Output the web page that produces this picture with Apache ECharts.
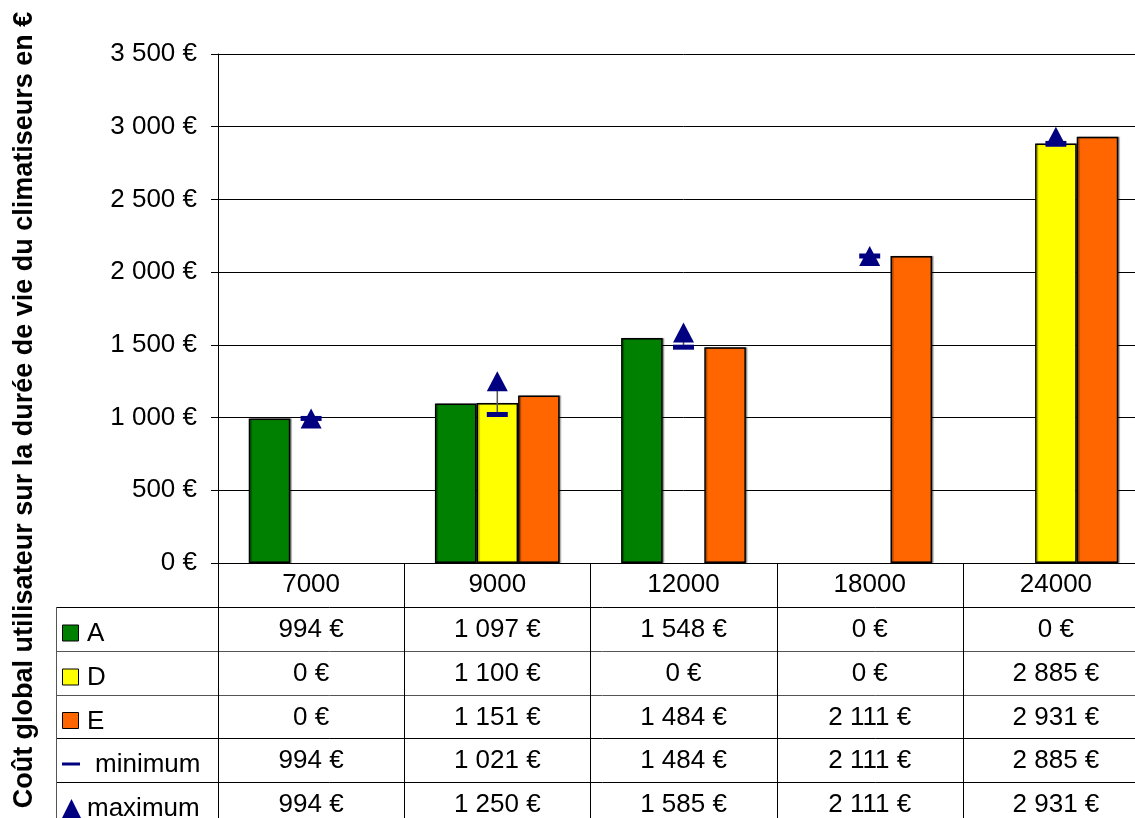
<!DOCTYPE html>
<html>
<head>
<meta charset="utf-8">
<script src="https://cdn.jsdelivr.net/npm/echarts@6/dist/echarts.min.js"></script>
<style>html,body{margin:0;padding:0;background:#fff;overflow:hidden;width:1135px;height:818px;}#c{width:1149px;height:818px;}</style>
</head>
<body>
<div id="c"></div>
<script>
const categories = ['7000', '9000', '12000', '18000', '24000'];
const seriesA = [994, 1097, 1548, 0, 0];
const seriesD = [0, 1100, 0, 0, 2885];
const seriesE = [0, 1151, 1484, 2111, 2931];
const minimum = [994, 1021, 1484, 2111, 2885];
const maximum = [994, 1250, 1585, 2111, 2931];
const yTicks = [0, 500, 1000, 1500, 2000, 2500, 3000, 3500];
const yTitle = 'Coût global utilisateur sur la durée de vie du climatiseurs en €';

const FONT = '"Liberation Sans", Arial, sans-serif';
const FS = 26;
function fmt(v) { return String(v).replace(/\B(?=(\d{3})+(?!\d))/g, ' ') + ' €'; }
function barData(arr) { return arr.map(v => v === 0 ? '-' : v); }

const W = 1149, H = 818;
const gridLeft = 218, gridTop = 54, plotBottom = 563, gridWidth = 931;
const catW = gridWidth / categories.length;
const rowTops = [563, 607, 651, 695, 738, 782, 826];
const tableLeft = 56;

const rows = [
  { name: 'A', key: 'rect', color: '#008000', vals: seriesA },
  { name: 'D', key: 'rect', color: '#FFFF00', vals: seriesD },
  { name: 'E', key: 'rect', color: '#FF6600', vals: seriesE },
  { name: 'minimum', key: 'dash', color: '#000080', vals: minimum },
  { name: 'maximum', key: 'tri', color: '#000080', vals: maximum }
];

const graphics = [];
graphics.push({
  type: 'text', x: 25, y: 410, rotation: Math.PI / 2, z: 10,
  style: { text: yTitle, font: 'bold 27px ' + FONT, fill: '#000', textAlign: 'center', textVerticalAlign: 'middle' }
});
for (let r = 1; r < rowTops.length - 1; r++) {
  graphics.push({ type: 'line', shape: { x1: tableLeft, y1: rowTops[r] + 0.5, x2: W, y2: rowTops[r] + 0.5 },
    style: { stroke: (r === 2 || r === 3) ? '#555' : '#000', lineWidth: 1 }, z: 5 });
}
graphics.push({ type: 'line', shape: { x1: tableLeft + 0.5, y1: rowTops[1], x2: tableLeft + 0.5, y2: H }, style: { stroke: '#555', lineWidth: 1 }, z: 5 });
for (let i = 0; i <= categories.length; i++) {
  const x = Math.round(gridLeft + i * catW) + 0.5;
  graphics.push({ type: 'line', shape: { x1: x, y1: plotBottom, x2: x, y2: H }, style: { stroke: '#000', lineWidth: 1 }, z: 5 });
}
rows.forEach((row, r) => {
  const yc = (rowTops[r + 1] + rowTops[r + 2]) / 2;
  row.vals.forEach((v, i) => {
    graphics.push({ type: 'text', x: gridLeft + (i + 0.5) * catW, y: yc + 1, z: 6,
      style: { text: fmt(v), font: FS + 'px ' + FONT, fill: '#000', textAlign: 'center', textVerticalAlign: 'middle' } });
  });
  const ky = yc + 4;
  if (row.key === 'rect') {
    graphics.push({ type: 'rect', shape: { x: 62.5, y: ky - 8, width: 16, height: 16 }, style: { fill: row.color, stroke: '#000', lineWidth: 1 }, z: 6 });
    graphics.push({ type: 'text', x: 87, y: ky + 1, z: 6, style: { text: row.name, font: FS + 'px ' + FONT, fill: '#000', textAlign: 'left', textVerticalAlign: 'middle' } });
  } else if (row.key === 'dash') {
    graphics.push({ type: 'rect', shape: { x: 62, y: ky - 1.5, width: 18, height: 3 }, style: { fill: row.color }, z: 6 });
    graphics.push({ type: 'text', x: 95, y: ky + 1, z: 6, style: { text: row.name, font: FS + 'px ' + FONT, fill: '#000', textAlign: 'left', textVerticalAlign: 'middle' } });
  } else {
    graphics.push({ type: 'polygon', shape: { points: [[71.5, ky - 9], [62, ky + 10], [81, ky + 10]] }, style: { fill: row.color }, z: 6 });
    graphics.push({ type: 'text', x: 87, y: ky + 1, z: 6, style: { text: row.name, font: FS + 'px ' + FONT, fill: '#000', textAlign: 'left', textVerticalAlign: 'middle' } });
  }
});

const barStyle = c => ({ color: c, borderColor: '#000', borderWidth: 1.5, shadowColor: 'rgba(0,0,0,0.35)', shadowOffsetX: 1.5, shadowOffsetY: 0, shadowBlur: 1 });

const chart = echarts.init(document.getElementById('c'), null, { renderer: 'canvas', width: W, height: H });
chart.setOption({
  animation: false,
  backgroundColor: '#fff',
  grid: { left: gridLeft, top: gridTop, right: W - gridLeft - gridWidth, bottom: H - plotBottom, containLabel: false, outerBoundsMode: 'none' },
  xAxis: {
    type: 'category', data: categories,
    axisLine: { show: true, lineStyle: { color: '#000', width: 1 } },
    axisTick: { show: false },
    axisLabel: { color: '#000', fontSize: FS, fontFamily: FONT, margin: 9 },
    splitLine: { show: false }
  },
  yAxis: {
    type: 'value', min: 0, max: 3500, interval: 500,
    axisLine: { show: true, lineStyle: { color: '#000', width: 1 } },
    axisTick: { show: true, length: 7, lineStyle: { color: '#000' } },
    axisLabel: { color: '#000', fontSize: FS, fontFamily: FONT, margin: 21, formatter: v => yTicks.includes(v) ? fmt(v) : '' },
    splitLine: { show: true, lineStyle: { color: '#000', width: 1 } }
  },
  series: [
    { name: 'A', type: 'bar', data: barData(seriesA), barGap: '0%', barCategoryGap: '33%', itemStyle: barStyle('#008000'), z: 2 },
    { name: 'D', type: 'bar', data: barData(seriesD), barGap: '0%', barCategoryGap: '33%', itemStyle: barStyle('#FFFF00'), z: 2 },
    { name: 'E', type: 'bar', data: barData(seriesE), barGap: '0%', barCategoryGap: '33%', itemStyle: barStyle('#FF6600'), z: 2 },
    {
      name: 'hilo', type: 'custom', z: 3,
      data: categories.map((c, i) => [i, minimum[i], maximum[i]]),
      renderItem: (params, api) => {
        const p1 = api.coord([api.value(0), api.value(1)]);
        const p2 = api.coord([api.value(0), api.value(2)]);
        return { type: 'line', shape: { x1: p1[0], y1: p1[1], x2: p2[0], y2: p2[1] }, style: { stroke: '#555', lineWidth: 1.5 } };
      }
    },
    { name: 'minimum', type: 'scatter', data: minimum, symbol: 'rect', symbolSize: [21, 5], itemStyle: { color: '#000080', opacity: 1 }, z: 4 },
    { name: 'maximum', type: 'scatter', data: maximum, symbol: 'triangle', symbolSize: [21, 20], itemStyle: { color: '#000080', opacity: 1 }, z: 5 }
  ],
  graphic: graphics
});
</script>
</body>
</html>
